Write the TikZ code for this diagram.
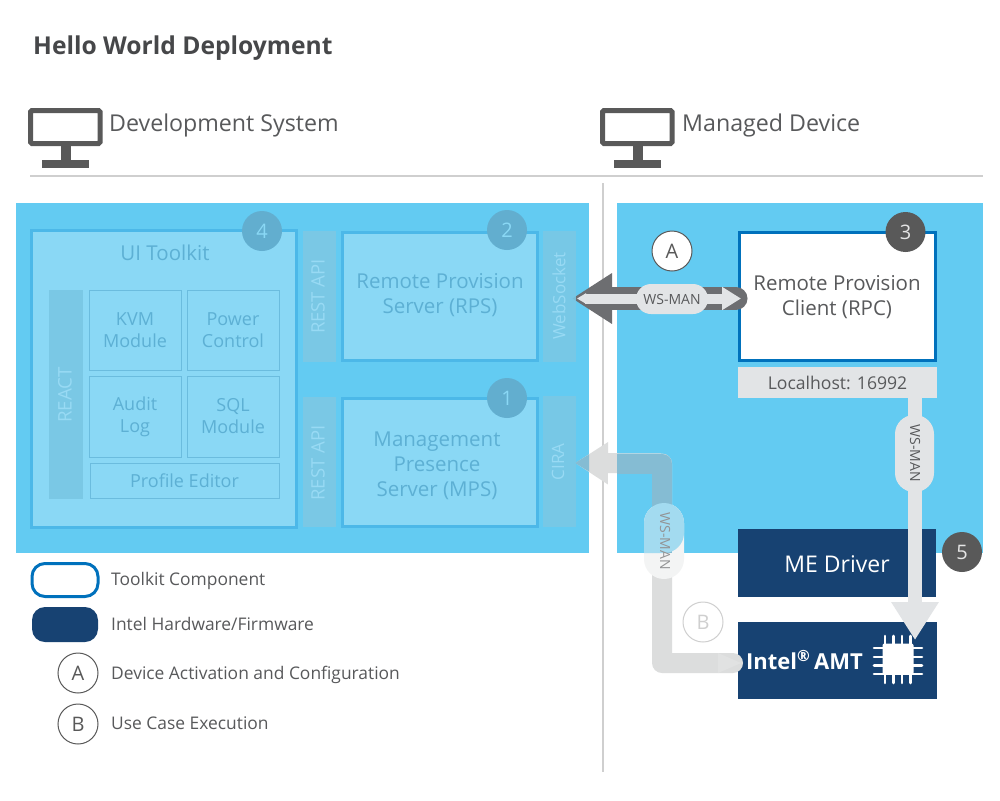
\documentclass[tikz,border=0pt]{standalone}
\usepackage{fontspec}
\setmainfont{Open Sans}
\usetikzlibrary{arrows.meta,calc}
\pgfdeclarelayer{front}
\pgfsetlayers{main,front}
\definecolor{panel}{HTML}{63CBF2}
\definecolor{fadefill}{HTML}{8AD8F5}
\definecolor{fadeline}{HTML}{4CB8E8}
\definecolor{fadecol}{HTML}{7AC8E5}
\definecolor{fadetext}{HTML}{5DB0D4}
\definecolor{fadecoltext}{HTML}{98DAF4}
\definecolor{fadebadge}{HTML}{62AECF}
\definecolor{rule}{HTML}{CFCFCF}
\definecolor{ink}{HTML}{58595B}
\definecolor{iconc}{HTML}{595959}
\definecolor{navy}{HTML}{174272}
\definecolor{blueline}{HTML}{0071BC}
\definecolor{lightg}{HTML}{E2E4E6}
\definecolor{darkarrow}{HTML}{6D6E71}
\definecolor{bwhite}{HTML}{DCDDDD}
\definecolor{bblue}{HTML}{85BCD3}
\definecolor{pwhite}{HTML}{F3F4F4}
\definecolor{pblue}{HTML}{A3DBF0}
\newcommand\fs[2]{\fontsize{#1}{#2}\selectfont}
\newcommand\bx[7]{\node[boxbase,#6,minimum width={(#4-(#2))*1pt},minimum height={(#5-(#3))*1pt}] (#1) at ({(#2+#4)/2},{(#3+#5)/2}) {#7};}
\tikzset{
  boxbase/.style={rectangle,inner sep=0pt,outer sep=0pt,align=center},
  fadebox/.style={draw=fadeline,line width=3pt,fill=fadefill},
  fadeinner/.style={draw=fadetext!70!fadefill,line width=0.8pt,fill=fadefill,text=fadetext,font=\fs{18}{22}},
  fadecolumn/.style={fill=fadecol},
  fadecolumnT/.style={fill=fadecol,fill opacity=0.88,text opacity=1},
  coltext/.style={text=fadecoltext,font=\fs{17}{20},rotate=90,inner sep=0pt},
  fadelabel/.style={text=fadetext,font=\fs{20.5}{25},align=center,inner sep=0pt},
  badge/.style={circle,inner sep=0pt,minimum size=40pt,font=\fs{20}{24}},
  fadebadgest/.style={badge,fill=fadebadge,text=fadefill},
  darkbadge/.style={badge,fill=iconc,text=white!90!black},
  letter/.style={circle,inner sep=0pt,minimum size=40pt,draw=iconc,line width=1pt,fill=white,text=iconc,font=\fs{20}{24}},
  pill/.style={rounded corners=#1,inner sep=0pt,fill=lightg},
  pilltext/.style={text=ink,font=\fs{14}{16},inner sep=0pt},
  legendtext/.style={text=ink,font=\fs{17.4}{20},anchor=base west,inner sep=0pt},
  headtext/.style={text=ink,font=\fs{23.2}{28},anchor=base west,inner sep=0pt},
  arrowbline/.style={line width=20pt,line cap=round,line join=round,-{Triangle[length=33pt,width=40pt]}},
}
\begin{document}
\begin{tikzpicture}[x=1pt,y=-1pt]
\useasboundingbox (0,0) rectangle (1000,800);
\fill[white] (0,0) rectangle (1000,800);

% title and headers
\node[anchor=base west,inner sep=0pt,text=ink!80!black,font=\bfseries\fs{24.6}{28}] (title) at (33,55) {Hello World Deployment};
\foreach \dx/\nm in {0/mona,572/monb}{
  \begin{scope}[xshift=\dx pt]
    \draw[iconc,line width=5pt,rounded corners=1.5pt,fill=white] (30.5,110.5) rectangle (100,143.5);
    \fill[iconc] (61,146) rectangle (71,160);
    \fill[iconc] (42,160) rectangle (89,168);
  \end{scope}
}
\node[headtext] (devsys) at (109,131.5) {Development System};
\node[headtext] (mandev) at (682,131.5) {Managed Device};
\coordinate (hl) at (30,175.5);
\coordinate (hr) at (983,175.5);
\draw[rule,line width=2pt] (hl) -- (hr);
\coordinate (vt) at (602.5,183);
\coordinate (vb) at (602.5,772);
\draw[rule,line width=2pt] (vt) -- (vb);

% panels
\bx{leftpanel}{16}{203}{589}{553}{fill=panel}{}
\bx{rightpanel}{617}{203}{983}{553}{fill=panel}{}

% UI toolkit
\bx{ui}{31.5}{230.5}{296.5}{527.5}{fadebox}{}
\node[fadelabel] (uit) at (165,253) {UI Toolkit};
\bx{react}{49}{290}{83}{499}{fadecolumn}{}
\node[coltext,font=\fs{18.7}{20}] (reactt) at (65,395) {REACT};
\bx{kvm}{89}{290}{181}{370}{fadeinner}{KVM\\Module}
\bx{power}{187}{290}{279}{370}{fadeinner}{Power\\Control}
\bx{audit}{89}{376}{181}{457}{fadeinner}{Audit\\Log}
\bx{sql}{187}{376}{279}{457}{fadeinner}{SQL\\Module}
\bx{profile}{90}{463}{279}{498}{fadeinner}{Profile Editor}
\node[fadebadgest] (b4) at (262,231) {4};

% servers
\bx{rest1}{303}{231}{336}{362}{fadecolumn}{}
\node[coltext,font=\fs{18.5}{20}] (rest1t) at (318,296.5) {REST API};
\bx{rps}{342.5}{232.5}{537.5}{360.5}{fadebox}{}
\node[fadelabel] (rpst) at (440,295.5) {Remote Provision\\Server (RPS)};
\node[fadebadgest] (b2) at (507,230) {2};
\bx{rest2}{303}{397}{336}{527}{fadecolumn}{}
\node[coltext,font=\fs{18.5}{20}] (rest2t) at (318,463) {REST API};
\bx{mps}{342.5}{398.5}{537.5}{526}{fadebox}{}
\node[fadelabel] (mpst) at (437,466) {Management\\Presence\\Server (MPS)};
\node[fadebadgest] (b1) at (507,398) {1};
\begin{pgfonlayer}{front}
  \bx{wsock}{543}{231}{576}{362}{fadecolumnT}{}
  \node[coltext] (wsockt) at (559,296) {WebSocket};
  \bx{cira}{543}{396}{576}{527}{fadecolumnT}{}
  \node[coltext] (cirat) at (558,462) {CIRA};
\end{pgfonlayer}

% right side boxes
\bx{rpc}{739.5}{232.5}{935}{360.5}{draw=blueline,line width=3pt,fill=white}{}
\node[text=ink,font=\fs{20.5}{25},align=center,inner sep=0pt] (rpct) at (837,297) {Remote Provision\\Client (RPC)};
\node[darkbadge] (b3) at (905.5,232) {3};
\bx{loc}{738}{367}{937}{398}{fill=lightg,text=ink,font=\fs{17.6}{20}}{Localhost: 16992}
\bx{me}{738}{529}{936}{597}{fill=navy,text=white}{}
\node[text=white,font=\fs{23}{27},inner sep=0pt] (met) at (837,564) {ME Driver};
\node[darkbadge] (b5) at (962,552) {5};
\bx{amt}{738}{622}{936.5}{699}{fill=navy}{}
\node[text=white,font=\bfseries\fs{22}{26},inner sep=0pt,anchor=west] (amtt) at (746,660) {Intel\textsuperscript{\textregistered}\,AMT};
% chip
\node[fill=white,inner sep=0pt,minimum size=31pt,rounded corners=2pt] (chip) at (898,659) {};
\foreach \py in {648,657,665.5,674}{\draw[white,line width=2.6pt,line cap=round] (874,\py) -- (922,\py);}
\foreach \px in {885,893.5,902,910.5}{\draw[white,line width=2.6pt,line cap=round] (\px,636) -- (\px,683);}

% arrow A
\draw[darkarrow,line width=23pt,{Triangle[length=40pt,width=48pt]}-,line cap=round]
  ([xshift=-4pt,yshift=-2pt]wsock.east) -- ([xshift=-3.5pt,yshift=-2pt]rpc.west);
\draw[lightg,line width=10pt,{Triangle[length=9pt,width=10pt]}-{Triangle[length=19pt,width=22pt]}]
  ([xshift=1pt,yshift=-2pt]wsock.east) -- ([xshift=1.5pt,yshift=-2pt]rpc.west);
\node[pill=15pt,minimum width=72pt,minimum height=30pt,pilltext,fill=lightg] (pa) at (672,299) {WS-MAN};
\node[letter] (la) at (672,251) {A};

% arrow to AMT
\coordinate (cend) at (915,640);
\draw[lightg,line width=14pt,-{Triangle[length=38pt,width=45pt]}] (loc.south -| cend) -- (cend);
\node[pill=19pt,minimum width=39pt,minimum height=77pt,fill=lightg] (pc) at (914.5,453.5) {};
\node[pilltext,rotate=-90] (pct) at (915,453) {WS-MAN};

% arrow B: pale on white, tinted over the panels
\coordinate (bs) at (733,663);
\coordinate (bk1) at (662,663);
\coordinate (bk2) at (662,463.5);
\draw[bwhite,arrowbline] (bs) -- (bk1) -- (bk2) -- ([xshift=-1pt,yshift=-1.5pt]cira.east);
\fill[bwhite!85!white] (718,653) -- (741,663) -- (718,673) -- cycle;
\node[pill=20pt,minimum width=40pt,minimum height=76pt,fill=pwhite] (pb) at (664,541) {};
% tinted parts over the panels
\draw[bblue,line width=20pt,line join=round,line cap=butt] (662,553) -- (662,463.5) -- (617,463.5);
\fill[bblue] (575,463) -- (589,454.5) -- (589,471.5) -- cycle;
\fill[pblue] (644,553) [rounded corners=20pt] -- (644,503) -- (684,503) -- (684,553) [sharp corners] -- cycle;
\node[pilltext,rotate=-90,text=black!35!lightg] (pbt) at (665,541) {WS-MAN};
\node[letter,draw=rule,text=rule] (lb) at (703,622) {B};

% legend
\node[rounded corners=13pt,draw=blueline,line width=3pt,fill=white,minimum width=66pt,minimum height=33pt,inner sep=0pt] (legt) at (65,580) {};
\node[rounded corners=13pt,fill=navy,minimum width=66pt,minimum height=35pt,inner sep=0pt] (legh) at (65,624.5) {};
\node[letter] (lega) at (78,673) {A};
\node[letter] (legb) at (78,724) {B};
\node[legendtext] (lt1) at (111,585) {Toolkit Component};
\node[legendtext] (lt2) at (111,630.5) {Intel Hardware/Firmware};
\node[legendtext] (lt3) at (111,679) {Device Activation and Configuration};
\node[legendtext] (lt4) at (111,729.5) {Use Case Execution};
\end{tikzpicture}
\end{document}
